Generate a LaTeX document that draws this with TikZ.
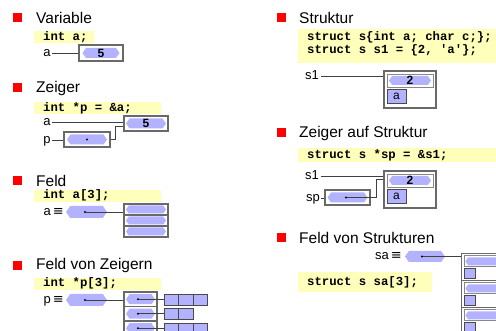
\documentclass[tikz,border=0pt]{standalone}
\usepackage{fontspec}
\setmainfont{Liberation Sans}
\setmonofont{Liberation Mono}
\newfontfamily\symfont{DejaVu Sans}
\usetikzlibrary{shapes.symbols,calc}
\definecolor{lav}{RGB}{178,178,255}
\definecolor{codey}{RGB}{255,255,188}
\definecolor{bx}{RGB}{105,105,105}
\newcommand\codeblk[4]{\begin{minipage}[c][#2pt][#3]{#1pt}\leftskip=9pt\relax\fontsize{12.3}{12.5}\selectfont\ttfamily\bfseries #4\end{minipage}}
\tikzset{
  bulletsq/.style={fill=red, minimum size=9pt, inner sep=0pt},
  titletext/.style={font=\fontsize{15.5}{18}\selectfont, anchor=west, inner sep=0pt},
  lbl/.style={font=\fontsize{13}{15}\selectfont, inner sep=0pt, text height=6.8pt, text depth=0pt},
  codebox/.style={fill=codey, anchor=north west, inner sep=0pt},
  cell/.style={draw=bx, line width=1.1pt, fill=white, inner sep=0pt},
  rowbox/.style={draw=bx!80, line width=0.7pt, fill=white, inner sep=0pt},
  hexv/.style={signal, signal to=east and west, signal pointer angle=110, fill=lav, inner sep=0pt, font=\fontsize{12}{12}\selectfont\bfseries},
  lavbox/.style={draw=bx!70!black, line width=0.8pt, fill=lav, inner sep=0pt, font=\fontsize{12}{12}\selectfont},
  dotn/.style={circle, fill=black, inner sep=0pt, minimum size=2.4pt},
  wire/.style={draw=black!75, line width=0.7pt},
}
\begin{document}
\begin{tikzpicture}[x=1pt,y=-1pt]
\path[use as bounding box] (0,0) rectangle (496,331);
\clip (0,0) rectangle (496,331);
% ---------- Variable
\node[bulletsq] (b1) at (17.5,17.5) {};
\node[titletext] (t1) at (36,18) {Variable};
\node[codebox] (c1) at (34,31) {\codeblk{60}{12}{c}{int a;}};
\node[lbl] (la1) at (47,53) {a};
\node[cell, minimum width=44pt, minimum height=16pt] (v1) at (101,53) {};
\node[hexv, minimum width=37pt, minimum height=10pt] (h1) at (101,53) {5};
\draw[wire, shorten <=1.5pt] (la1.east) -- (la1.east -| v1.west);
% ---------- Zeiger
\node[bulletsq] (b2) at (17.5,88) {};
\node[titletext] (t2) at (36,88) {Zeiger};
\node[codebox] (c2) at (34,102) {\codeblk{127}{11.5}{c}{int *p = \&a;}};
\node[lbl] (la2) at (47,122) {a};
\node[cell, minimum width=44pt, minimum height=15pt] (v2) at (146,123.5) {};
\node[hexv, minimum width=40pt, minimum height=10pt] (h2) at (146,123.5) {5};
\node[lbl] (lp2) at (47,140) {p};
\node[cell, minimum width=46pt, minimum height=15pt] (p2) at (87,139.5) {};
\node[hexv, minimum width=40pt, minimum height=10pt] (hp2) at (87,139.5) {};
\node[dotn] (d2) at (87,139.5) {};
\draw[wire, shorten <=1.5pt] (la2.east) -- (la2.east -| v2.west);
\draw[wire, shorten <=1.5pt] (lp2.east) -- (lp2.east -| p2.west);
\draw[wire] (p2.east) -- ++(5,0) |- ($(v2.west)+(0,3)$);
% ---------- Feld
\node[bulletsq] (b3) at (17.5,181) {};
\node[titletext] (t3) at (36,180.5) {Feld};
\node[codebox] (c3) at (34,189.5) {\codeblk{127}{12}{c}{int a[3];}};
\node[lbl, anchor=east] (la3) at (64,212) {a\,{\symfont ≡}};
\node[hexv, minimum width=41pt, minimum height=12pt] (hp3) at (86.5,212) {};
\node[cell, minimum width=44pt, minimum height=11pt] (a3c1) at (146,209.5) {};
\node[cell, minimum width=44pt, minimum height=11pt] (a3c2) at (146,220.5) {};
\node[cell, minimum width=44pt, minimum height=11pt] (a3c3) at (146,231.5) {};
\node[hexv, minimum width=40pt, minimum height=8pt] (h3a) at (146,209.5) {};
\node[hexv, minimum width=40pt, minimum height=8pt] (h3b) at (146,220.5) {};
\node[hexv, minimum width=40pt, minimum height=8pt] (h3c) at (146,231.5) {};
\node[dotn] (d3) at (85,212) {};
\draw[wire] (d3) -- (d3 -| a3c1.west);
% ---------- Feld von Zeigern
\node[bulletsq] (b4) at (17.5,266) {};
\node[titletext] (t4) at (36,265.5) {Feld von Zeigern};
\node[codebox] (c4) at (34,277.5) {\codeblk{127}{12}{c}{int *p[3];}};
\node[lbl, anchor=east] (lp4) at (64,300) {p\,{\symfont ≡}};
\node[hexv, minimum width=41pt, minimum height=12pt] (hp4) at (86.5,300) {};
\node[dotn] (d4) at (85,300) {};
\node[cell, minimum width=33pt, minimum height=14.5pt] (a4c1) at (140.5,299.25) {};
\node[cell, minimum width=33pt, minimum height=14.5pt] (a4c2) at (140.5,313.75) {};
\node[cell, minimum width=33pt, minimum height=14.5pt] (a4c3) at (140.5,328.25) {};
\node[hexv, minimum width=29pt, minimum height=10pt] (h4a) at (140.5,299.25) {};
\node[hexv, minimum width=29pt, minimum height=10pt] (h4b) at (140.5,313.75) {};
\node[hexv, minimum width=29pt, minimum height=10pt] (h4c) at (140.5,328.25) {};
\node[dotn] (d4a) at (138,299.25) {};
\node[dotn] (d4b) at (138,313.75) {};
\node[dotn] (d4c) at (138,328.25) {};
\foreach \nm/\xx/\yy in {s1a/171.25/299.5, s1b/185.75/299.5, s1c/200.25/299.5,
                         s2a/171.25/313.5, s2b/185.75/313.5,
                         s3a/171.25/328.5, s3b/185.75/328.5, s3c/200.25/328.5}
  \node[lavbox, minimum width=14.5pt, minimum height=11pt] (\nm) at (\xx,\yy) {};
\draw[wire] (d4) -- (d4 -| a4c1.west);
\draw[wire] (d4a) -- (d4a -| s1a.west);
\draw[wire] (d4b) -- (d4b -| s2a.west);
\draw[wire] (d4c) -- (d4c -| s3a.west);
% ---------- Struktur
\node[bulletsq] (b5) at (281.5,18) {};
\node[titletext] (t5) at (299,18) {Struktur};
\node[codebox] (c5) at (298,29) {\codeblk{200}{34}{t}{\vspace*{2.5pt}struct s\{int a; char c;\};\\struct s s1 = \{2, 'a'\};}};
\node[lbl] (ls5) at (312,76) {s1};
\node[cell, minimum width=52pt, minimum height=37pt] (st5) at (410,89.5) {};
\node[rowbox, minimum width=46pt, minimum height=13pt] (r5) at (410,80.5) {};
\node[hexv, minimum width=42pt, minimum height=9pt] (h5) at (410,80.5) {2};
\node[lavbox, minimum width=19pt, minimum height=14pt] (ab5) at (396.5,96) {a};
\draw[wire, shorten <=2pt] (ls5.east) -- (ls5.east -| st5.west);
% ---------- Zeiger auf Struktur
\node[bulletsq] (b6) at (281.5,133) {};
\node[titletext] (t6) at (299,133) {Zeiger auf Struktur};
\node[codebox] (c6) at (298,148) {\codeblk{200}{14}{c}{struct s *sp = \&s1;}};
\node[lbl] (ls6) at (312,176.5) {s1};
\node[cell, minimum width=52pt, minimum height=37pt] (st6) at (410,189.5) {};
\node[rowbox, minimum width=46pt, minimum height=13pt] (r6) at (410,180.5) {};
\node[hexv, minimum width=42pt, minimum height=9pt] (h6) at (410,180.5) {2};
\node[lavbox, minimum width=19pt, minimum height=14pt] (ab6) at (396.5,196.5) {a};
\node[lbl] (lsp6) at (313,198) {sp};
\node[cell, minimum width=45pt, minimum height=15pt] (sp6) at (347.5,197.5) {};
\node[hexv, minimum width=40pt, minimum height=10pt] (hsp6) at (347.5,197.5) {};
\node[dotn] (d6) at (346,197.5) {};
\draw[wire, shorten <=2pt] (ls6.east) -- (ls6.east -| st6.west);
\draw[wire, shorten <=1pt] (lsp6.east) -- (lsp6.east -| sp6.west);
\draw[wire] (d6) -- ++(30,0) |- ($(st6.west)+(0,-10)$);
% ---------- Feld von Strukturen
\node[bulletsq] (b7) at (281.5,238) {};
\node[titletext] (t7) at (299,238) {Feld von Strukturen};
\node[lbl, anchor=east] (lsa7) at (402,256.5) {sa\,{\symfont ≡}};
\node[hexv, minimum width=40pt, minimum height=11pt] (hp7) at (425,256.5) {};
\node[dotn] (d7) at (422,256.5) {};
\foreach \k/\yy in {1/253, 2/280, 3/307} {
  \node[cell, minimum width=42pt, minimum height=27pt, anchor=north west] (sa\k) at (461,\yy) {};
  \node[rowbox, minimum width=37pt, minimum height=11pt, anchor=north west] (sar\k) at (463.5,\yy+2.5) {};
  \node[hexv, minimum width=34pt, minimum height=8pt] (sah\k) at (sar\k.center) {};
  \node[lavbox, minimum width=11.5pt, minimum height=10pt, anchor=north west] (sab\k) at (463.5,\yy+15) {};
}
\draw[wire] (d7) -- (d7 -| sa1.west);
\node[codebox] (c7) at (298,272) {\codeblk{134}{20}{c}{struct s sa[3];}};
\end{tikzpicture}
\end{document}
